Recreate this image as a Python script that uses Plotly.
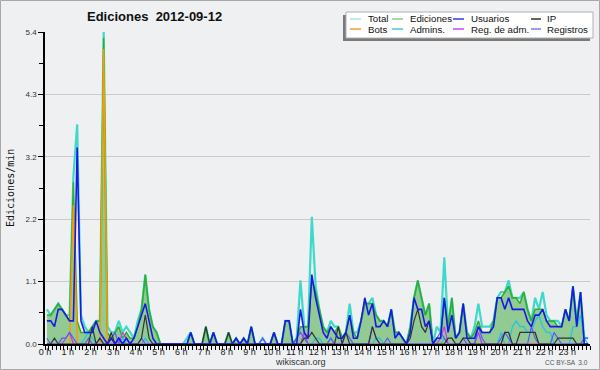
import plotly.graph_objects as go

# 10-minute bins, values in edits per minute
bins = list(range(144))
hours = [(10 * i + 5) / 60 for i in bins]

ediciones = [
    0.5, 0.5, 0.6, 0.7, 0.6, 0.5,  0.4, 2.8, 0.4, 0.2, 0.2, 0.2,
    0.3, 0.4, 0.4, 5.3, 0.2, 0.1,  0.2, 0.3, 0.1, 0.2, 0.1, 0.1,
    0.3, 0.6, 1.2, 0.6, 0.3, 0.2,  0.0, 0.0, 0.0, 0.0, 0.0, 0.0,
    0.0, 0.0, 0.2, 0.0, 0.0, 0.0,  0.3, 0.0, 0.2, 0.0, 0.0, 0.0,
    0.2, 0.0, 0.1, 0.0, 0.1, 0.0,  0.3, 0.0, 0.0, 0.0, 0.0, 0.0,
    0.2, 0.0, 0.0, 0.4, 0.4, 0.0,  0.1, 0.3, 0.3, 0.3, 1.1, 0.9,
    0.6, 0.3, 0.2, 0.3, 0.2, 0.3,  0.1, 0.2, 0.5, 0.2, 0.1, 0.4,
    0.7, 0.7, 0.7, 0.5, 0.4, 0.4,  0.3, 0.6, 0.2, 0.2, 0.1, 0.0,
    0.3, 0.8, 1.1, 0.8, 0.5, 0.7,  0.0, 0.1, 0.1, 0.8, 0.3, 0.8,
    0.1, 0.2, 0.7, 0.2, 0.1, 0.2,  0.4, 0.2, 0.2, 0.2, 0.4, 0.8,
    0.8, 0.9, 1.0, 0.8, 0.8, 0.7,  0.9, 0.6, 0.4, 0.6, 0.6, 0.6,
    0.4, 0.4, 0.4, 0.3, 0.3, 0.6,  0.4, 1.0, 0.4, 0.9, 0.0, 0.0,
]
total = [
    0.6, 0.5, 0.6, 0.7, 0.6, 0.5,  0.5, 2.9, 3.8, 0.5, 0.3, 0.2,
    0.3, 0.4, 0.4, 5.4, 0.3, 0.2,  0.2, 0.4, 0.2, 0.3, 0.2, 0.1,
    0.4, 0.6, 1.2, 0.6, 0.3, 0.2,  0.0, 0.0, 0.0, 0.0, 0.0, 0.0,
    0.0, 0.1, 0.2, 0.0, 0.0, 0.0,  0.3, 0.0, 0.2, 0.0, 0.0, 0.0,
    0.2, 0.0, 0.1, 0.0, 0.1, 0.0,  0.3, 0.0, 0.0, 0.1, 0.0, 0.0,
    0.2, 0.0, 0.0, 0.4, 0.4, 0.0,  0.1, 1.1, 0.3, 0.3, 2.2, 1.0,
    0.6, 0.3, 0.2, 0.4, 0.3, 0.3,  0.1, 0.2, 0.7, 0.2, 0.2, 0.4,
    0.7, 0.7, 0.8, 0.5, 0.4, 0.4,  0.3, 0.6, 0.2, 0.2, 0.1, 0.0,
    0.3, 0.8, 1.1, 0.8, 0.5, 0.7,  0.0, 0.3, 0.2, 1.5, 0.3, 0.8,
    0.1, 0.2, 0.7, 0.2, 0.1, 0.3,  0.7, 0.3, 0.3, 0.3, 0.4, 0.8,
    0.9, 0.9, 1.1, 0.8, 0.8, 0.8,  0.9, 0.6, 0.4, 0.8, 0.6, 0.9,
    0.5, 0.4, 0.4, 0.4, 0.3, 0.6,  0.4, 1.0, 0.4, 0.9, 0.1, 0.1,
]
usuarios = [
    0.4, 0.4, 0.3, 0.6, 0.6, 0.5,  0.4, 0.4, 3.4, 0.4, 0.2, 0.2,
    0.2, 0.4, 0.2, 0.1, 0.0, 0.1,  0.0, 0.1, 0.0, 0.1, 0.0, 0.1,
    0.3, 0.5, 0.7, 0.4, 0.1, 0.0,  0.0, 0.0, 0.0, 0.0, 0.0, 0.0,
    0.0, 0.0, 0.2, 0.0, 0.0, 0.0,  0.0, 0.0, 0.2, 0.0, 0.0, 0.0,
    0.0, 0.0, 0.1, 0.0, 0.1, 0.0,  0.3, 0.0, 0.0, 0.0, 0.0, 0.0,
    0.2, 0.0, 0.0, 0.4, 0.4, 0.0,  0.0, 0.6, 0.2, 0.1, 1.2, 0.8,
    0.5, 0.2, 0.1, 0.3, 0.2, 0.1,  0.1, 0.2, 0.5, 0.1, 0.1, 0.4,
    0.8, 0.5, 0.7, 0.3, 0.3, 0.4,  0.3, 0.6, 0.1, 0.2, 0.1, 0.0,
    0.2, 0.8, 0.6, 0.6, 0.3, 0.4,  0.0, 0.1, 0.1, 0.8, 0.2, 0.5,
    0.1, 0.2, 0.7, 0.1, 0.1, 0.1,  0.3, 0.2, 0.2, 0.2, 0.3, 0.8,
    0.8, 0.6, 0.8, 0.6, 0.6, 0.6,  0.6, 0.4, 0.3, 0.5, 0.5, 0.6,
    0.4, 0.3, 0.3, 0.3, 0.3, 0.6,  0.4, 1.0, 0.3, 0.9, 0.0, 0.0,
]
ip = [
    0.0, 0.0, 0.1, 0.0, 0.0, 0.0,  0.0, 0.0, 0.0, 0.0, 0.0, 0.0,
    0.3, 0.0, 0.1, 0.0, 0.0, 0.2,  0.0, 0.1, 0.0, 0.0, 0.0, 0.0,
    0.0, 0.1, 0.5, 0.1, 0.0, 0.0,  0.0, 0.0, 0.0, 0.0, 0.0, 0.0,
    0.0, 0.0, 0.0, 0.0, 0.0, 0.0,  0.3, 0.0, 0.0, 0.0, 0.0, 0.0,
    0.2, 0.0, 0.0, 0.0, 0.0, 0.0,  0.0, 0.0, 0.0, 0.0, 0.0, 0.0,
    0.0, 0.0, 0.0, 0.0, 0.0, 0.0,  0.0, 0.0, 0.1, 0.1, 0.2, 0.1,
    0.0, 0.0, 0.0, 0.0, 0.0, 0.3,  0.0, 0.2, 0.0, 0.0, 0.0, 0.0,
    0.0, 0.0, 0.3, 0.1, 0.0, 0.0,  0.0, 0.0, 0.0, 0.0, 0.0, 0.0,
    0.1, 0.4, 0.6, 0.3, 0.2, 0.4,  0.0, 0.0, 0.0, 0.0, 0.1, 0.1,
    0.0, 0.0, 0.1, 0.1, 0.0, 0.0,  0.0, 0.0, 0.0, 0.0, 0.0, 0.0,
    0.0, 0.2, 0.2, 0.0, 0.0, 0.2,  0.2, 0.2, 0.2, 0.2, 0.0, 0.0,
    0.0, 0.0, 0.0, 0.1, 0.1, 0.1,  0.1, 0.1, 0.0, 0.0, 0.0, 0.0,
]
bots = [
    0.0, 0.0, 0.0, 0.0, 0.0, 0.0,  0.0, 2.4, 0.0, 0.0, 0.0, 0.0,
    0.0, 0.0, 0.0, 5.1, 0.0, 0.0,  0.0, 0.0, 0.0, 0.0, 0.0, 0.0,
] + [0.0] * 120
admins = [
    0.0, 0.0, 0.0, 0.0, 0.0, 0.0,  0.0, 0.0, 0.0, 0.0, 0.1, 0.2,
    0.1, 0.0, 0.0, 0.0, 0.0, 0.0,  0.0, 0.0, 0.1, 0.0, 0.0, 0.0,
    0.0, 0.0, 0.1, 0.0, 0.0, 0.0,  0.0, 0.0, 0.0, 0.0, 0.0, 0.0,
    0.0, 0.0, 0.0, 0.0, 0.0, 0.0,  0.0, 0.0, 0.0, 0.0, 0.0, 0.0,
    0.0, 0.0, 0.0, 0.0, 0.0, 0.0,  0.0, 0.0, 0.0, 0.0, 0.0, 0.0,
    0.0, 0.0, 0.0, 0.0, 0.0, 0.0,  0.0, 0.0, 0.0, 0.0, 0.0, 0.1,
    0.1, 0.0, 0.0, 0.1, 0.0, 0.0,  0.0, 0.0, 0.0, 0.0, 0.0, 0.0,
    0.0, 0.0, 0.0, 0.1, 0.1, 0.0,  0.0, 0.0, 0.0, 0.0, 0.0, 0.0,
    0.0, 0.0, 0.0, 0.0, 0.0, 0.0,  0.0, 0.0, 0.0, 0.1, 0.0, 0.0,
    0.0, 0.0, 0.0, 0.0, 0.0, 0.0,  0.2, 0.0, 0.0, 0.0, 0.0, 0.0,
    0.2, 0.0, 0.0, 0.3, 0.4, 0.3,  0.3, 0.2, 0.2, 0.4, 0.5, 0.3,
    0.2, 0.2, 0.0, 0.0, 0.0, 0.0,  0.0, 0.3, 0.3, 0.5, 0.1, 0.0,
]
reg_adm = [
    0.0, 0.0, 0.0, 0.0, 0.0, 0.1,  0.2, 0.0, 0.0, 0.0, 0.0, 0.0,
    0.0, 0.0, 0.0, 0.0, 0.0, 0.0,  0.0, 0.0, 0.2, 0.1, 0.0, 0.0,
] + [0.0] * 44 + [
    0.2, 0.0, 0.0, 0.0, 0.0, 0.0,  0.0, 0.0, 0.0, 0.0, 0.0, 0.0,
    0.0, 0.0, 0.0, 0.0, 0.0, 0.0,  0.0, 0.0, 0.0, 0.0, 0.0, 0.0,
    0.0, 0.0, 0.0, 0.0, 0.0, 0.0,  0.0, 0.0, 0.0, 0.0, 0.0, 0.0,
    0.1, 0.3, 0.0, 0.0, 0.0, 0.0,  0.0, 0.0, 0.0, 0.0, 0.2, 0.0,
] + [0.0] * 28
registros = [
    0.1, 0.0, 0.0, 0.0, 0.1, 0.1,  0.2, 0.1, 0.0, 0.0, 0.0, 0.1,
    0.0, 0.0, 0.1, 0.0, 0.0, 0.1,  0.2, 0.0, 0.0, 0.1, 0.0, 0.0,
    0.0, 0.1, 0.0, 0.0, 0.0, 0.0,  0.0, 0.0, 0.0, 0.0, 0.0, 0.0,
    0.0, 0.0, 0.0, 0.0, 0.0, 0.0,  0.0, 0.0, 0.0, 0.0, 0.0, 0.0,
    0.0, 0.0, 0.0, 0.0, 0.0, 0.0,  0.0, 0.0, 0.0, 0.1, 0.0, 0.0,
    0.0, 0.0, 0.0, 0.0, 0.0, 0.0,  0.1, 0.2, 0.1, 0.0, 0.0, 0.0,
    0.0, 0.0, 0.0, 0.1, 0.0, 0.0,  0.0, 0.2, 0.1, 0.0, 0.0, 0.0,
    0.0, 0.0, 0.3, 0.1, 0.0, 0.0,  0.1, 0.0, 0.0, 0.0, 0.0, 0.0,
    0.0, 0.0, 0.0, 0.0, 0.0, 0.0,  0.0, 0.1, 0.2, 0.1, 0.0, 0.0,
    0.0, 0.0, 0.1, 0.0, 0.0, 0.0,  0.3, 0.1, 0.0, 0.0, 0.0, 0.0,
    0.1, 0.2, 0.1, 0.0, 0.0, 0.0,  0.0, 0.0, 0.3, 0.1, 0.0, 0.0,
    0.0, 0.0, 0.2, 0.1, 0.0, 0.0,  0.0, 0.0, 0.0, 0.0, 0.1, 0.1,
]

hour_ticks = list(range(24))
hour_labels = [f"{h} h" for h in hour_ticks]
y_ticks = [0, 1.08, 2.16, 3.24, 4.32, 5.4]
y_labels = ["0.0", "1.1", "2.2", "3.2", "4.3", "5.4"]
y_minor = [0.54, 1.62, 2.7, 3.78, 4.86]

legend_items = [
    ("Total", "#a8e4dc"), ("Ediciones", "#88cc88"), ("Usuarios", "#3838e0"), ("IP", "#333333"),
    ("Bots", "#ff9933"), ("Admins.", "#44c8e0"), ("Reg. de adm.", "#cc44ee"), ("Registros", "#7a7aee"),
]

# plot-area geometry in pixels
L, R, T, B = 45, 590, 32, 344
W, H = R - L, B - T


def PX(x):
    return (x - L) / W


def PY(y):
    return (B - y) / H


fig = go.Figure()
fig.add_trace(go.Scatter(x=hours, y=total, mode="lines", name="Total",
                         line=dict(color="#3fd9cb", width=2.2), showlegend=False))
fig.add_trace(go.Scatter(x=hours, y=ediciones, mode="lines", name="Ediciones", fill="tozeroy",
                         fillcolor="rgba(40,160,40,0.47)",
                         line=dict(color="#2fae2f", width=1.5), showlegend=False))
fig.add_trace(go.Scatter(x=hours, y=bots, mode="lines", name="Bots",
                         line=dict(color="#ff9900", width=1.5), showlegend=False))
fig.add_trace(go.Scatter(x=hours, y=admins, mode="lines", name="Admins.",
                         line=dict(color="#22c4e0", width=1.2), showlegend=False))
fig.add_trace(go.Scatter(x=hours, y=reg_adm, mode="lines", name="Reg. de adm.",
                         line=dict(color="#cc33ee", width=1.2), showlegend=False))
fig.add_trace(go.Scatter(x=hours, y=registros, mode="lines", name="Registros",
                         line=dict(color="#5a5af5", width=1.2), showlegend=False))
fig.add_trace(go.Scatter(x=hours, y=ip, mode="lines", name="IP",
                         line=dict(color="#333333", width=1.2), showlegend=False))
fig.add_trace(go.Scatter(x=hours, y=usuarios, mode="lines", name="Usuarios",
                         line=dict(color="#1818e8", width=1.6), showlegend=False))

shapes = [
    # outer frame
    dict(type="rect", xref="paper", yref="paper", x0=PX(0.5), x1=PX(599.5), y0=PY(369.5), y1=PY(0.5),
         line=dict(color="#a8a8a8", width=1), layer="below"),
    # legend shadow and box
    dict(type="rect", xref="paper", yref="paper", x0=PX(343), x1=PX(590), y0=PY(41), y1=PY(15),
         fillcolor="#7a7a7a", line=dict(width=0)),
    dict(type="rect", xref="paper", yref="paper", x0=PX(346), x1=PX(593), y0=PY(38), y1=PY(12),
         fillcolor="white", line=dict(color="#b0b0b0", width=1)),
]
annotations = []
col_line = [(350, 361), (392, 403), (453, 464), (531, 541)]
col_text = [366, 408, 469, 545]
row_y = [19, 29]
for k, (label, color) in enumerate(legend_items):
    r, c = divmod(k, 4)
    shapes.append(dict(type="line", xref="paper", yref="paper",
                       x0=PX(col_line[c][0]), x1=PX(col_line[c][1]), y0=PY(row_y[r]), y1=PY(row_y[r]),
                       line=dict(color=color, width=1.5)))
    annotations.append(dict(text=label, xref="paper", yref="paper", x=PX(col_text[c]), y=PY(row_y[r]),
                            xanchor="left", yanchor="middle", showarrow=False,
                            font=dict(family="Liberation Sans", size=9.7, color="#111111")))

annotations += [
    dict(text="<b>Ediciones  2012-09-12</b>", xref="paper", yref="paper", x=PX(154), y=PY(17),
         xanchor="center", yanchor="middle", showarrow=False,
         font=dict(family="Liberation Sans", size=13, color="#111111")),
    dict(text="Ediciones/min", xref="paper", yref="paper", x=PX(10), y=PY(188), textangle=-90,
         xanchor="center", yanchor="middle", showarrow=False,
         font=dict(family="DejaVu Sans Mono", size=10, color="#111111")),
    dict(text="wikiscan.org", xref="paper", yref="paper", x=PX(300), y=PY(362),
         xanchor="center", yanchor="middle", showarrow=False,
         font=dict(family="Liberation Sans", size=9, color="#333333")),
    dict(text="CC BY-SA  3.0", xref="paper", yref="paper", x=PX(590), y=PY(362),
         xanchor="right", yanchor="middle", showarrow=False,
         font=dict(family="Liberation Sans", size=6.5, color="#555555")),
]

fig.update_layout(
    width=600, height=370,
    margin=dict(l=L, r=600 - R, t=T, b=370 - B),
    paper_bgcolor="#eff0f1", plot_bgcolor="#eff0f1",
    showlegend=False,
    shapes=shapes, annotations=annotations,
    xaxis=dict(range=[0, 24], tickmode="array", tickvals=hour_ticks, ticktext=hour_labels,
               ticks="outside", ticklen=4, tickcolor="black", tickwidth=1,
               showline=True, linecolor="black", linewidth=2, showgrid=False, zeroline=False,
               tickfont=dict(family="Liberation Sans", size=9, color="#222222"),
               ticklabelstandoff=-6,
               minor=dict(tickmode="linear", tick0=0, dtick=1 / 6, ticks="outside", ticklen=4,
                          tickcolor="black", tickwidth=1, showgrid=False),
               fixedrange=True),
    yaxis=dict(range=[0, 5.4], tickmode="array", tickvals=y_ticks, ticktext=y_labels,
               ticks="outside", ticklen=5, tickcolor="black", tickwidth=1,
               showline=True, linecolor="black", linewidth=1.5,
               showgrid=True, gridcolor="#cacaca", gridwidth=1, zeroline=False,
               tickfont=dict(family="Liberation Sans", size=8, color="#333333"),
               minor=dict(tickmode="array", tickvals=y_minor, ticks="outside", ticklen=4,
                          tickcolor="black", tickwidth=1, showgrid=False),
               fixedrange=True),
)

fig.write_html("out.html", config={"displayModeBar": False},
               post_script="document.body.style.margin='0';document.body.style.padding='0';"
                           "document.body.style.overflow='hidden';")
